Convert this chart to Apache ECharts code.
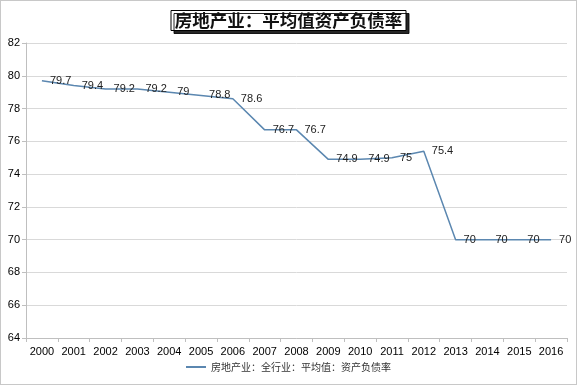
<!DOCTYPE html>
<html><head><meta charset="utf-8">
<script src="https://cdn.jsdelivr.net/npm/echarts@6/dist/echarts.min.js"></script>
<style>html,body{margin:0;padding:0;background:#fff}#c{width:575px;height:383px;border:1px solid #c8c8c8}</style>
</head><body><div id="c"></div>
<script>
const categories = ['2000','2001','2002','2003','2004','2005','2006','2007','2008','2009','2010','2011','2012','2013','2014','2015','2016'];
const values = [79.7,79.4,79.2,79.2,79,78.8,78.6,76.7,76.7,74.9,74.9,75,75.4,70,70,70,70];
const seriesName = '房地产业：全行业：平均值：资产负债率';
const titleText = '房地产业：平均值资产负债率';
const chart = echarts.init(document.getElementById('c'));
chart.setOption({
  animation:false,
  title:{text:titleText,left:'center',top:9,padding:[2,4,1,4],backgroundColor:'#fff',borderColor:'#000',borderWidth:1,
    shadowColor:'rgba(0,0,0,0.85)',shadowOffsetX:3,shadowOffsetY:3,shadowBlur:0,
    textStyle:{fontFamily:'Noto Sans CJK SC',fontSize:17.5,fontWeight:'bold',color:'#111'}},
  grid:{left:25,right:9,top:42,bottom:46},
  legend:{bottom:7,left:'center',itemWidth:20,itemHeight:2,itemGap:2,icon:'rect',
    itemStyle:{color:'#5b87b0',opacity:1},
    textStyle:{fontFamily:'Noto Sans CJK SC',fontSize:10,color:'#333'},data:[seriesName]},
  xAxis:{type:'category',data:categories,boundaryGap:true,
    axisLine:{lineStyle:{color:'#bfbfbf'}},axisTick:{show:true,length:4,lineStyle:{color:'#bfbfbf'}},
    axisLabel:{color:'#000',fontSize:11,fontFamily:'Liberation Sans',margin:8}},
  yAxis:{type:'value',min:64,max:82,interval:2,
    axisLine:{show:true,lineStyle:{color:'#bfbfbf'}},axisTick:{show:true,length:4,lineStyle:{color:'#bfbfbf'}},
    splitLine:{lineStyle:{color:'#d9d9d9'}},
    axisLabel:{color:'#000',fontSize:11,fontFamily:'Liberation Sans',margin:6}},
  series:[{name:seriesName,type:'line',data:values,symbol:'circle',symbolSize:0,showSymbol:true,showAllSymbol:true,
    lineStyle:{color:'#5b87b0',width:1.5},itemStyle:{color:'#5b87b0'},
    label:{show:true,position:'right',distance:8,offset:[0,-1],fontSize:11,color:'#222',opacity:1,fontFamily:'Liberation Sans'},
    labelLayout:{hideOverlap:false}}]
});
</script></body></html>
